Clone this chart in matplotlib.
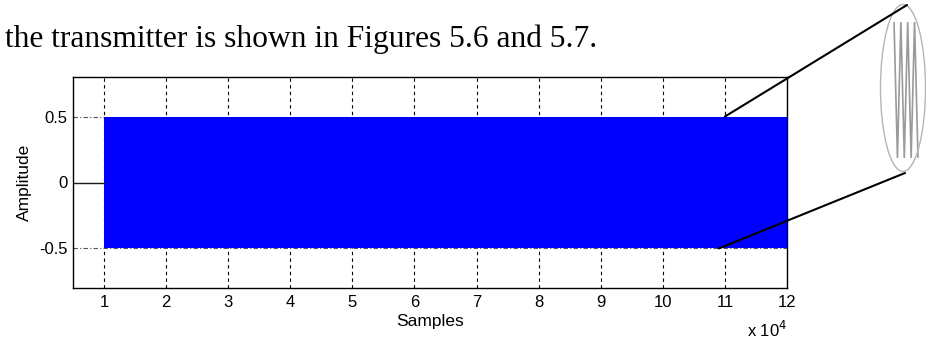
import numpy as np
import matplotlib
matplotlib.use("Agg")
import matplotlib.pyplot as plt
from matplotlib.patches import Ellipse, ConnectionPatch
from matplotlib.ticker import FuncFormatter

# transmitted signal envelope (samples, upper / lower amplitude)
env_samples = [10000, 20000, 30000, 40000, 50000, 60000, 70000, 80000, 90000, 100000, 110000, 120000]
env_upper = [0.50, 0.50, 0.50, 0.50, 0.50, 0.50, 0.50, 0.50, 0.50, 0.50, 0.50, 0.50]
env_lower = [-0.50, -0.50, -0.50, -0.50, -0.50, -0.50, -0.50, -0.50, -0.50, -0.50, -0.50, -0.50]

# idle (zero) part before transmission starts
idle_samples = [5000, 10000]
idle_values = [0.0, 0.0]

# a few samples of the waveform, magnified
zoom_values = [0.5, -0.5, 0.5, -0.5, 0.5, -0.5, 0.5, -0.5]

xtick_vals = [10000, 20000, 30000, 40000, 50000, 60000, 70000, 80000, 90000, 100000, 110000, 120000]
ytick_vals = [-0.5, 0, 0.5]

caption = "the transmitter is shown in Figures 5.6 and 5.7."

W, H = 926, 342
fig = plt.figure(figsize=(W / 100, H / 100), dpi=100)
fig.patch.set_facecolor("white")

ax = fig.add_axes([73 / W, 1 - 288 / H, (787 - 73) / W, (288 - 77) / H])
ax.set_xlim(5000, 120000)
ax.set_ylim(-0.8, 0.8)

# grid: vertical dashed at every tick, horizontal ones only show left of the signal
for xv in xtick_vals:
    ax.axvline(xv, color="black", lw=0.8, ls=(0, (3, 3)), zorder=1)
for yv in (0.5, -0.5):
    ax.axhline(yv, color="#555555", lw=0.8, ls=(0, (4, 2, 1, 2)), zorder=1)

ax.fill_between(env_samples, env_lower, env_upper, color="#0000ff", lw=0, zorder=2)
ax.plot(idle_samples, idle_values, color="#1a1a1a", lw=1.0, zorder=2)

ax.set_xticks(xtick_vals)
ax.xaxis.set_major_formatter(FuncFormatter(lambda v, p: f"{v / 1e4:g}"))
ax.set_yticks(ytick_vals)
ax.set_yticklabels(["-0.5", "0", "0.5"])
ax.tick_params(direction="in", length=0, labelsize=12)
ax.tick_params(axis="x", pad=5)
ax.tick_params(axis="y", pad=4)
for t in ax.get_xticklabels() + ax.get_yticklabels():
    t.set_fontfamily("Liberation Sans")

for s in ax.spines.values():
    s.set_linewidth(1.0)
    s.set_color("black")

ax.set_xlabel("Samples", fontsize=12.5, family="Liberation Sans", labelpad=3)
ax.set_ylabel("Amplitude", fontsize=12.5, family="Liberation Sans", labelpad=5)

fig.text(787 / W, 1 - 337 / H, r"x 10$^4$", ha="right", va="baseline",
         fontsize=12, family="Liberation Sans")

fig.text(5 / W, 1 - 47 / H, caption, ha="left", va="baseline",
         fontsize=22.7, family="Liberation Serif")

# magnifier ellipse on the right
ell = Ellipse((903 / W, 1 - 88 / H), 45 / W, 167 / H, transform=fig.transFigure,
              fill=False, edgecolor="#b5b5b5", lw=1.0)
fig.add_artist(ell)

zax = fig.add_axes([893 / W, 1 - 158 / H, 26 / W, 136 / H])
zax.plot(np.arange(len(zoom_values)), zoom_values, color="#9a9a9a", lw=1.2)
zax.set_xlim(-0.3, len(zoom_values) - 0.7)
zax.set_ylim(-0.5, 0.5)
zax.axis("off")

# callout lines from the signal edge to the magnifier
for xy_a, xy_b in [((110000, 0.5), (907 / W, 1 - 5 / H)),
                   ((109000, -0.5), (905 / W, 1 - 173 / H))]:
    con = ConnectionPatch(xyA=xy_a, coordsA=ax.transData,
                          xyB=xy_b, coordsB=fig.transFigure,
                          color="black", lw=1.5, zorder=5)
    fig.add_artist(con)

fig.savefig("out.png", dpi=100)
